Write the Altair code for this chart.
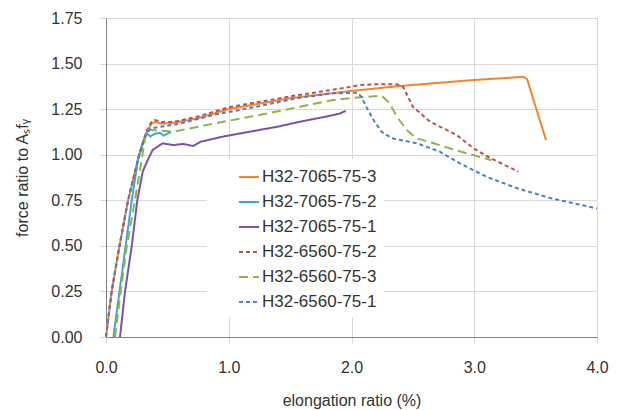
import altair as alt
import pandas as pd

series_names = ["H32-7065-75-3", "H32-7065-75-2", "H32-7065-75-1",
                "H32-6560-75-2", "H32-6560-75-3", "H32-6560-75-1"]
series_colors = ["#F4842C", "#3FA9C9", "#7B52A6", "#C0504D", "#8DB547", "#4A7FC1"]
series_dash = [[1, 0], [1, 0], [1, 0], [4, 3], [9, 5], [4, 3]]

# H32-7065-75-3 (orange)
x_7065_3 = [0.0, 0.046, 0.11, 0.18, 0.27, 0.33, 0.37, 0.40, 0.45, 0.55, 0.75, 1.0, 1.5, 2.0, 2.4, 2.72, 3.0, 3.35, 3.40, 3.43, 3.585]
y_7065_3 = [0.0, 0.25, 0.50, 0.75, 1.00, 1.12, 1.17, 1.18, 1.17, 1.175, 1.20, 1.25, 1.31, 1.35, 1.377, 1.395, 1.41, 1.425, 1.428, 1.415, 1.08]
# H32-7065-75-2 (cyan)
x_7065_2 = [0.06, 0.11, 0.16, 0.21, 0.26, 0.30, 0.33, 0.36, 0.40, 0.44, 0.47, 0.50, 0.53]
y_7065_2 = [0.0, 0.25, 0.50, 0.75, 0.97, 1.07, 1.12, 1.10, 1.115, 1.12, 1.105, 1.115, 1.125]
# H32-7065-75-1 (purple)
x_7065_1 = [0.114, 0.155, 0.21, 0.255, 0.30, 0.34, 0.38, 0.46, 0.55, 0.63, 0.71, 0.77, 0.95, 1.17, 1.40, 1.58, 1.80, 1.90, 1.953]
y_7065_1 = [0.0, 0.25, 0.50, 0.75, 0.91, 0.97, 1.026, 1.062, 1.053, 1.059, 1.048, 1.071, 1.099, 1.126, 1.154, 1.181, 1.21, 1.225, 1.24]
# H32-6560-75-2 (red dashed)
x_6560_2 = [0.0, 0.046, 0.11, 0.18, 0.27, 0.33, 0.37, 0.40, 0.45, 0.55, 0.75, 1.0, 1.5, 1.74, 2.0, 2.07, 2.18, 2.37, 2.42, 2.46, 2.50, 2.56, 2.64, 2.72, 2.857, 2.99, 3.13, 3.36]
y_6560_2 = [0.0, 0.25, 0.50, 0.75, 1.00, 1.13, 1.18, 1.19, 1.18, 1.18, 1.21, 1.26, 1.32, 1.345, 1.373, 1.382, 1.386, 1.386, 1.373, 1.318, 1.263, 1.228, 1.181, 1.154, 1.108, 1.037, 0.982, 0.907]
# H32-6560-75-3 (green long dash)
x_6560_3 = [0.073, 0.12, 0.17, 0.236, 0.29, 0.32, 0.35, 0.38, 0.55, 0.87, 1.25, 1.58, 1.85, 2.07, 2.245, 2.31, 2.37, 2.45, 2.53, 2.67, 2.80, 2.99, 3.14]
y_6560_3 = [0.0, 0.25, 0.50, 0.75, 0.97, 1.10, 1.14, 1.135, 1.126, 1.17, 1.218, 1.263, 1.30, 1.315, 1.324, 1.283, 1.208, 1.135, 1.09, 1.063, 1.035, 0.998, 0.97]
# H32-6560-75-1 (blue dashed)
x_6560_1 = [0.0, 0.046, 0.11, 0.18, 0.27, 0.32, 0.36, 0.38, 0.6, 0.87, 1.2, 1.58, 1.85, 2.05, 2.08, 2.12, 2.18, 2.245, 2.33, 2.53, 2.72, 2.88, 3.10, 3.35, 3.62, 4.0]
y_6560_1 = [0.0, 0.25, 0.50, 0.75, 1.00, 1.10, 1.14, 1.146, 1.17, 1.218, 1.26, 1.313, 1.337, 1.34, 1.318, 1.263, 1.19, 1.126, 1.09, 1.063, 1.017, 0.954, 0.879, 0.816, 0.762, 0.705]

x_ticks = [0, 1, 2, 3, 4]
y_ticks = [0, 0.25, 0.5, 0.75, 1.0, 1.25, 1.5, 1.75]

xs = [x_7065_3, x_7065_2, x_7065_1, x_6560_2, x_6560_3, x_6560_1]
ys = [y_7065_3, y_7065_2, y_7065_1, y_6560_2, y_6560_3, y_6560_1]

rows = []
for name, xv, yv in zip(series_names, xs, ys):
    for i, (a, b) in enumerate(zip(xv, yv)):
        rows.append({"series": name, "x": a, "y": b, "i": i})
df = pd.DataFrame(rows)

FONT = "Liberation Sans"

chart = alt.Chart(df).mark_line(strokeWidth=2).encode(
    x=alt.X("x:Q", title="elongation ratio (%)",
            scale=alt.Scale(domain=[0, 4], nice=False),
            axis=alt.Axis(values=x_ticks, format=".1f", labelPadding=16,
                          labelFlush=False, titlePadding=17)),
    y=alt.Y("y:Q", title="force ratio to Aₛfᵧ",
            scale=alt.Scale(domain=[0, 1.75], nice=False),
            axis=alt.Axis(values=y_ticks, format=".2f", labelPadding=18,
                          labelFlush=False, titlePadding=20)),
    color=alt.Color("series:N", scale=alt.Scale(domain=series_names, range=series_colors),
                    legend=alt.Legend(title=None)),
    strokeDash=alt.StrokeDash("series:N", scale=alt.Scale(domain=series_names, range=series_dash),
                              legend=alt.Legend(title=None)),
    order="i:Q",
).properties(
    width=491, height=319,
    padding={"left": 106, "top": 18, "right": 24, "bottom": 73},
    autosize=alt.AutoSizeParams(type="none"),
).configure_view(
    stroke="#808080", strokeWidth=1
).configure_axis(
    gridColor="#D9D9D9", gridWidth=1,
    domainColor="#808080", tickColor="#D9D9D9", tickSize=6,
    labelFont=FONT, labelFontSize=16, labelColor="#333333",
    titleFont=FONT, titleFontSize=16, titleColor="#333333", titleFontWeight="normal",
).configure_legend(
    orient="none", legendX=101, legendY=141,
    fillColor="white", padding=7, symbolOffset=24,
    symbolType="stroke", symbolSize=400, symbolStrokeWidth=2,
    labelFont=FONT, labelFontSize=17, labelColor="#333333", labelOffset=2,
    rowPadding=6, labelLimit=300,
)

chart.save("out.html", embed_options={"renderer": "svg", "actions": False})
